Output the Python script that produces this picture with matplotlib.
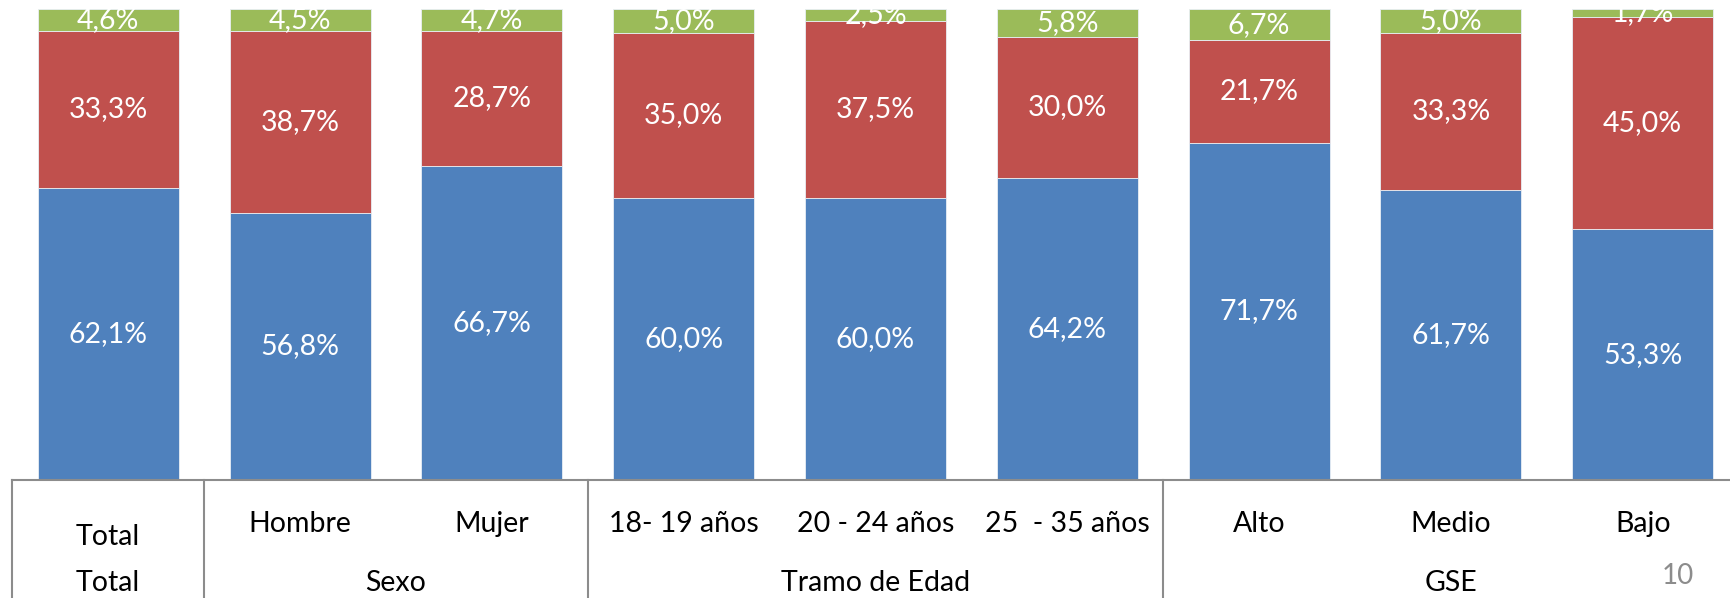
"""Stacked percentage bars by segment (Total / Sexo / Tramo de Edad / GSE)."""
import numpy as np
import matplotlib
matplotlib.use("Agg")
import matplotlib.pyplot as plt
from matplotlib.transforms import blended_transform_factory

plt.rcParams['font.family'] = ['Lato', 'DejaVu Sans']

# Categories and groups
categories = ["Total", "Hombre", "Mujer", "18- 19 años", "20 - 24 años",
              "25  - 35 años", "Alto", "Medio", "Bajo"]
groups = ["Total", "Sexo", "Tramo de Edad", "GSE"]
group_sizes = [1, 2, 3, 3]

# Series values (%)
blue_vals = [62.1, 56.8, 66.7, 60.0, 60.0, 64.2, 71.7, 61.7, 53.3]
red_vals = [33.3, 38.7, 28.7, 35.0, 37.5, 30.0, 21.7, 33.3, 45.0]
green_vals = [4.6, 4.5, 4.7, 5.0, 2.5, 5.8, 6.7, 5.0, 1.7]

colors = ["#4F81BD", "#C0504D", "#9BBB59"]
line_gray = "#8C8C8C"

fig = plt.figure(figsize=(17.31, 5.98), dpi=100)
ax = fig.add_axes([0.0071, 0.1973, 0.9973, 0.7871])

x = np.arange(len(categories))
bottom = np.zeros(len(categories))
for vals, col in zip([blue_vals, red_vals, green_vals], colors):
    vals = np.array(vals)
    ax.bar(x, vals, width=0.735, bottom=bottom, color=col,
           edgecolor="#E8EEF4", linewidth=0.6)
    for xi, b, v in zip(x, bottom, vals):
        ax.text(xi, b + v / 2, f"{v:.1f}%".replace(".", ","),
                ha="center", va="center", color="white", fontsize=20.5,
                clip_on=False)
    bottom += vals

ax.set_xlim(-0.5, 8.5)
ax.set_ylim(0, 100)
ax.set_xticks([])
ax.set_yticks([])
for side in ["top", "left", "right"]:
    ax.spines[side].set_visible(False)
ax.spines["bottom"].set_color(line_gray)
ax.spines["bottom"].set_linewidth(1.5)

trans = blended_transform_factory(ax.transData, ax.transAxes)

# category labels
for i, cat in enumerate(categories):
    yy = -0.121 if i == 0 else -0.093
    ax.text(i, yy, cat, transform=trans, ha="center", va="center",
            fontsize=20.5, color="black")

# group separators and labels
start = 0
for g, n in zip(groups, group_sizes):
    ax.plot([start - 0.5, start - 0.5], [0, -0.3], transform=trans,
            color=line_gray, lw=1.5, clip_on=False)
    ax.text(start + (n - 1) / 2, -0.219, g, transform=trans, ha="center",
            va="center", fontsize=20.5, color="black")
    start += n

fig.text(1678 / 1731, 1 - 576 / 598, "10", ha="center", va="center",
         fontsize=20, color="#8C8C8C")

fig.savefig("out.png", dpi=100)
